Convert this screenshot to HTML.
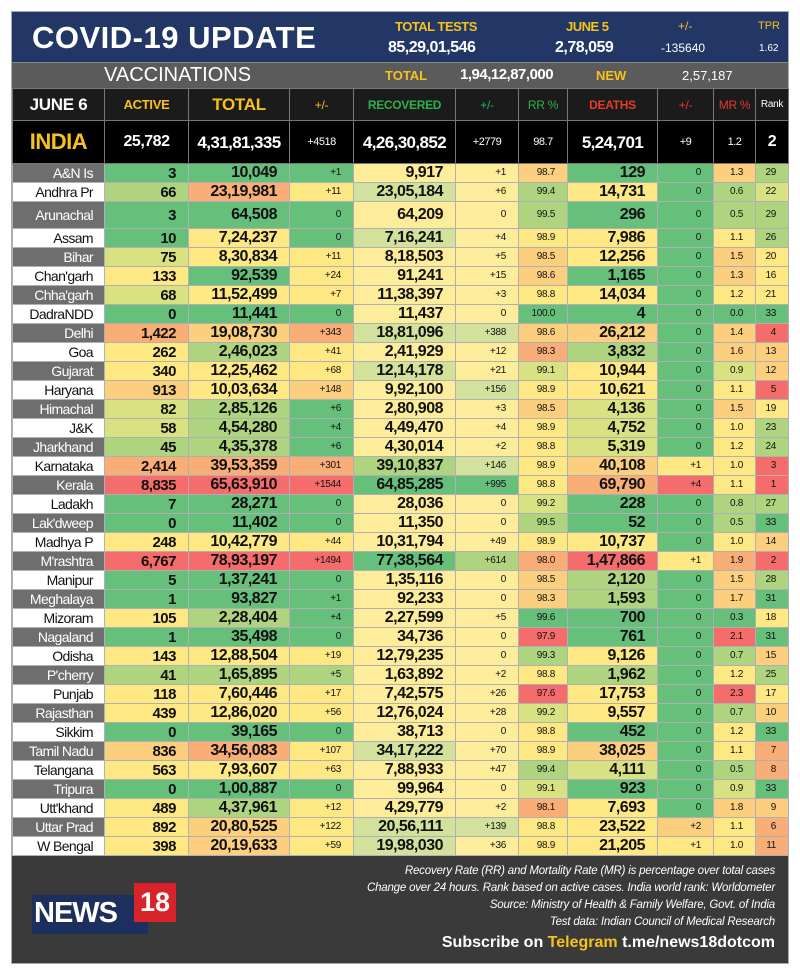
<!DOCTYPE html>
<html><head><meta charset="utf-8"><style>
*{margin:0;padding:0;box-sizing:border-box}
body{width:800px;height:977px;background:#fff;position:relative;overflow:hidden;font-family:"Liberation Sans Narrow","Liberation Sans",sans-serif}
.abs{position:absolute;white-space:nowrap}
#frame{position:absolute;left:11px;top:11px;width:778px;height:953px;border:1px solid #aaa;background:#3a3a3a}
#hdr{position:absolute;left:12px;top:12px;width:776px;height:50px;background:#223766}
#vac{position:absolute;left:12px;top:62px;width:776px;height:26px;background:#5b5b5b;border-top:1px solid #888}
table{position:absolute;left:12px;top:88px;border-collapse:collapse;table-layout:fixed;width:776px}
td{border:1px solid #b0b0b0;font-weight:bold;text-align:right;padding:0 12px 0 2px;color:#111;font-size:15px;line-height:1;overflow:hidden;white-space:nowrap;letter-spacing:-0.5px}
tr.h td{background:#1b1b1b;border-color:#777;height:32px;text-align:center;font-size:12px;padding:0;letter-spacing:-0.3px}
tr.in td{background:#000;color:#fff;border-color:#777;height:43px;text-align:center;font-size:16px;padding:0}
tr.r td{height:19px}
tr.r td.n{font-size:14px;font-weight:normal;padding-right:11px;letter-spacing:-0.6px}
tr.r td.s{font-size:10px;font-weight:normal;letter-spacing:-0.3px}
tr.r td.big{font-size:16px}
.gr{background:#6e6e6e;color:#fff!important}
.wh{background:#fff}
.G{background:#67bf7c}.g{background:#aed47f}.l{background:#d8e283}.y{background:#fde884}.Y{background:#fdec9a}.o{background:#fccf7f}.O{background:#f9ad77}.R{background:#f46c6b}
.lg{background:#d2e29c}
#foot{position:absolute;left:12px;top:856px;width:776px;height:107px;background:#3a3a3a}
.ft{position:absolute;right:25px;color:#fff;font-style:italic;font-size:11.5px;letter-spacing:-0.2px}
</style></head><body>
<div id="frame"></div>
<div id="hdr"></div>
<div class="abs" style="left:32px;top:20px;color:#fff;font-family:'Liberation Sans',sans-serif;font-weight:bold;font-size:31px;letter-spacing:0.5px">COVID-19 UPDATE</div>
<div class="abs" style="left:395px;top:19px;color:#f6c21b;font-weight:bold;font-size:13px;letter-spacing:-0.5px">TOTAL TESTS</div>
<div class="abs" style="left:566px;top:19px;color:#f6c21b;font-weight:bold;font-size:13px;letter-spacing:-0.5px">JUNE 5</div>
<div class="abs" style="left:678px;top:19px;color:#f6c21b;font-size:12px">+/-</div>
<div class="abs" style="left:758px;top:20px;color:#f6c21b;font-size:11px">TPR</div>
<div class="abs" style="left:388px;top:39px;color:#fff;font-weight:bold;font-size:16px;letter-spacing:-0.5px">85,29,01,546</div>
<div class="abs" style="left:555px;top:39px;color:#fff;font-weight:bold;font-size:16px;letter-spacing:-0.5px">2,78,059</div>
<div class="abs" style="left:661px;top:41px;color:#fff;font-size:12px">-135640</div>
<div class="abs" style="left:759px;top:43px;color:#fff;font-size:10px">1.62</div>
<div id="vac"></div>
<div class="abs" style="left:104px;top:64px;color:#fff;font-family:'Liberation Sans',sans-serif;font-size:20px">VACCINATIONS</div>
<div class="abs" style="left:385px;top:68px;color:#f6c21b;font-weight:bold;font-size:13px">TOTAL</div>
<div class="abs" style="left:460px;top:66px;color:#fff;font-weight:bold;font-size:15px;letter-spacing:-0.5px">1,94,12,87,000</div>
<div class="abs" style="left:596px;top:68px;color:#f6c21b;font-weight:bold;font-size:13px">NEW</div>
<div class="abs" style="left:682px;top:68px;color:#fff;font-size:13px">2,57,187</div>
<table>
<colgroup><col style="width:92px"><col style="width:84px"><col style="width:101px"><col style="width:64px"><col style="width:102px"><col style="width:63px"><col style="width:49px"><col style="width:90px"><col style="width:56px"><col style="width:42px"><col style="width:33px"></colgroup>
<tr class="h"><td style="color:#fff;font-size:17px">JUNE 6</td><td style="color:#f6c21b;font-size:13px">ACTIVE</td><td style="color:#f6c21b;font-size:17px">TOTAL</td><td style="color:#f6c21b;font-weight:normal">+/-</td><td style="color:#2db24a">RECOVERED</td><td style="color:#2db24a;font-weight:normal">+/-</td><td style="color:#2db24a;font-weight:normal">RR %</td><td style="color:#e63a2a">DEATHS</td><td style="color:#e63a2a;font-weight:normal">+/-</td><td style="color:#e63a2a;font-weight:normal">MR %</td><td style="color:#fff;font-weight:normal;font-size:10px">Rank</td></tr>
<tr class="in"><td style="color:#f6c21b;font-size:22px">INDIA</td><td style="letter-spacing:-0.5px">25,782</td><td style="font-size:17px;letter-spacing:-0.6px">4,31,81,335</td><td style="font-size:11px;font-weight:normal">+4518</td><td style="font-size:17px;letter-spacing:-0.6px">4,26,30,852</td><td style="font-size:11px;font-weight:normal">+2779</td><td style="font-size:11px;font-weight:normal">98.7</td><td style="font-size:17px;letter-spacing:-0.6px">5,24,701</td><td style="font-size:11px;font-weight:normal">+9</td><td style="font-size:11px;font-weight:normal">1.2</td><td>2</td></tr>
<tbody id="tb"></tbody>
</table>
<div id="foot"></div>
<div class="abs" style="left:32px;top:895px;width:116px;height:39px;background:#1d2f5e"></div>
<div class="abs" style="left:134px;top:883px;width:42px;height:39px;background:#d8232a;color:#fff;font-family:'Liberation Sans',sans-serif;font-weight:bold;font-size:27px;text-align:center;line-height:39px">18</div>
<div class="abs" style="left:34px;top:897px;color:#fff;font-family:'Liberation Sans',sans-serif;font-weight:bold;font-size:29px;letter-spacing:-1px">NEWS</div>
<div class="ft abs" style="top:865px">Recovery Rate (RR) and Mortality Rate (MR) is percentage over total cases</div>
<div class="ft abs" style="top:882px">Change over 24 hours. Rank based on active cases. India world rank: Worldometer</div>
<div class="ft abs" style="top:899px">Source: Ministry of Health &amp; Family Welfare, Govt. of India</div>
<div class="ft abs" style="top:916px">Test data: Indian Council of Medical Research</div>
<div class="abs" style="right:25px;top:934px;color:#fff;font-weight:bold;font-size:16px">Subscribe on <span style="color:#f6c21b">Telegram</span> t.me/news18dotcom</div>
<script>
var d=[
["A&N Is","3","10,049","+1","9,917","+1","98.7","129","0","1.3","29","GGGYYoGGog"],
["Andhra Pr","66","23,19,981","+11","23,05,184","+6","99.4","14,731","0","0.6","22","gOyLYgyGgl"],
["Arunachal","3","64,508","0","64,209","0","99.5","296","0","0.5","29","GGGYYgGGgg"],
["Assam","10","7,24,237","0","7,16,241","+4","98.9","7,986","0","1.1","26","GyGLYyyGyg"],
["Bihar","75","8,30,834","+11","8,18,503","+5","98.5","12,256","0","1.5","20","lyyYYoyGoy"],
["Chan'garh","133","92,539","+24","91,241","+15","98.6","1,165","0","1.3","16","yGyYYoGGoy"],
["Chha'garh","68","11,52,499","+7","11,38,397","+3","98.8","14,034","0","1.2","21","lyyYYyyGyy"],
["DadraNDD","0","11,441","0","11,437","0","100.0","4","0","0.0","33","GGGYYGGGGG"],
["Delhi","1,422","19,08,730","+343","18,81,096","+388","98.6","26,212","0","1.4","4","OoOLLooGoR"],
["Goa","262","2,46,023","+41","2,41,929","+12","98.3","3,832","0","1.6","13","ygyYYOgGoo"],
["Gujarat","340","12,25,462","+68","12,14,178","+21","99.1","10,944","0","0.9","12","yyyLYlyGlo"],
["Haryana","913","10,03,634","+148","9,92,100","+156","98.9","10,621","0","1.1","5","oyoYLyyGyR"],
["Himachal","82","2,85,126","+6","2,80,908","+3","98.5","4,136","0","1.5","19","lgGYYolGoy"],
["J&K","58","4,54,280","+4","4,49,470","+4","98.9","4,752","0","1.0","23","lgGYYylGyg"],
["Jharkhand","45","4,35,378","+6","4,30,014","+2","98.8","5,319","0","1.2","24","ggGYYylGyg"],
["Karnataka","2,414","39,53,359","+301","39,10,837","+146","98.9","40,108","+1","1.0","3","OOOgLyoyyR"],
["Kerala","8,835","65,63,910","+1544","64,85,285","+995","98.8","69,790","+4","1.1","1","RRRGGyORyR"],
["Ladakh","7","28,271","0","28,036","0","99.2","228","0","0.8","27","GGGYYlGGgg"],
["Lak'dweep","0","11,402","0","11,350","0","99.5","52","0","0.5","33","GGGYYgGGgG"],
["Madhya P","248","10,42,779","+44","10,31,794","+49","98.9","10,737","0","1.0","14","yyyYYyyGyo"],
["M'rashtra","6,767","78,93,197","+1494","77,38,564","+614","98.0","1,47,866","+1","1.9","2","RRRGgORyOR"],
["Manipur","5","1,37,241","0","1,35,116","0","98.5","2,120","0","1.5","28","GGGYYogGog"],
["Meghalaya","1","93,827","+1","92,233","0","98.3","1,593","0","1.7","31","GGGYYogGoG"],
["Mizoram","105","2,28,404","+4","2,27,599","+5","99.6","700","0","0.3","18","ygGYYGGGGy"],
["Nagaland","1","35,498","0","34,736","0","97.9","761","0","2.1","31","GGGYYRGGRG"],
["Odisha","143","12,88,504","+19","12,79,235","0","99.3","9,126","0","0.7","15","yyyYYgyGgo"],
["P'cherry","41","1,65,895","+5","1,63,892","+2","98.8","1,962","0","1.2","25","gggYYygGyg"],
["Punjab","118","7,60,446","+17","7,42,575","+26","97.6","17,753","0","2.3","17","yyyYYRyGRy"],
["Rajasthan","439","12,86,020","+56","12,76,024","+28","99.2","9,557","0","0.7","10","yyyYYlyGgo"],
["Sikkim","0","39,165","0","38,713","0","98.8","452","0","1.2","33","GGGYYyGGyG"],
["Tamil Nadu","836","34,56,083","+107","34,17,222","+70","98.9","38,025","0","1.1","7","oOyLYyoGyO"],
["Telangana","563","7,93,607","+63","7,88,933","+47","99.4","4,111","0","0.5","8","yyyYYglGgO"],
["Tripura","0","1,00,887","0","99,964","0","99.1","923","0","0.9","33","GGGYYlGGlG"],
["Utt'khand","489","4,37,961","+12","4,29,779","+2","98.1","7,693","0","1.8","9","ygyYYOyGoo"],
["Uttar Prad","892","20,80,525","+122","20,56,111","+139","98.8","23,522","+2","1.1","6","yoyLLyyoyO"],
["W Bengal","398","20,19,633","+59","19,98,030","+36","98.9","21,205","+1","1.0","11","yoyLYyyyyO"]];
var h="";
d.forEach(function(r,i){
 var c=r[11];var st=i==2?' style="height:27px"':'';
 h+='<tr class="r"'+st+'><td class="n '+(i%2==0?'gr':'wh')+'">'+r[0].replace('&','&amp;')+'</td>';
 for(var k=1;k<=10;k++){
  var cl=c[k-1];if(cl=='L')cl='lg';
  var ex=(k==2||k==4||k==7)?' big':((k==3||k==5||k==6||k==8||k==9||k==10)?' s':'');
  h+='<td class="'+cl+ex+'">'+r[k]+'</td>';
 }
 h+='</tr>';
});
document.getElementById('tb').innerHTML=h;
</script>
</body></html>
